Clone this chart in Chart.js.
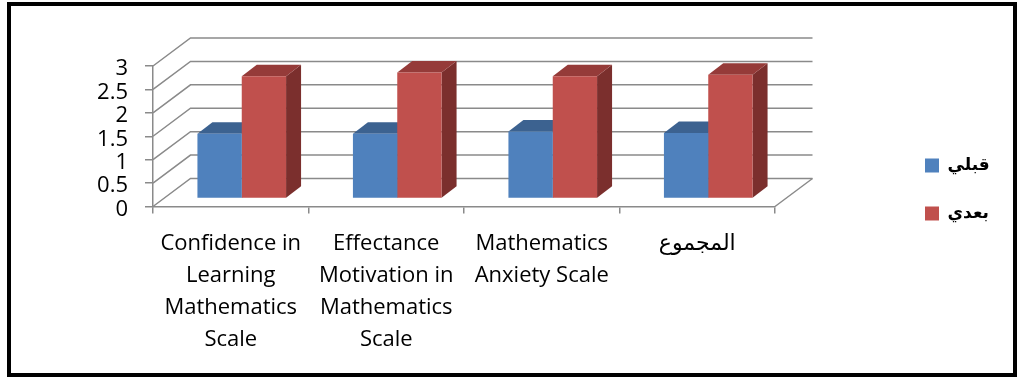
<!DOCTYPE html>
<html>
<head>
<meta charset="utf-8">
<script src="https://cdn.jsdelivr.net/npm/chart.js@4"></script>
<style>
  body { margin: 0; background: #fff; }
  canvas { display: block; }
</style>
</head>
<body>
<canvas id="chart" width="1019" height="379"></canvas>
<script>
const categories = [
    ["Confidence in", "Learning", "Mathematics", "Scale"],
    ["Effectance", "Motivation in", "Mathematics", "Scale"],
    ["Mathematics", "Anxiety Scale"],
    "المجموع"
];
const seriesNames = ["قبلي", "بعدي"];
const before = [1.38, 1.38, 1.43, 1.40];
const after = [2.61, 2.69, 2.61, 2.64];
const yTicks = [0, 0.5, 1, 1.5, 2, 2.5, 3];

// 3d look, in px
const DEPTH_X = 37.5, DEPTH_Y = -28;      // floor / side wall depth
const SHIFT_X = 11, SHIFT_Y = -8;         // bars stand a bit inside the floor
const BAR_DX = 15, BAR_DY = -11.5;        // depth of each bar
const GRID = "#8a8a8a";
const LABEL_FONT = "'Open Sans', 'DejaVu Sans', sans-serif";

const fronts = ["#4f81bd", "#c0504d"];
const tops = ["#3c6290", "#953b39"];
const sides = ["#2f4e74", "#7b2f2d"];

const ctx = document.getElementById("chart");

const fake3d = {
    id: "fake3d",
    afterLayout(chart) {
        // legend sits far to the right, centred vertically
        const lg = chart.legend;
        lg.left = 894;
        lg.right = chart.width;
        lg.width = lg.right - lg.left;
        lg.top = 0;
        lg.bottom = chart.height;
        lg.height = chart.height;
    },
    beforeDatasetsDraw(chart) {
        const c = chart.ctx, y = chart.scales.y, a = chart.chartArea;
        c.save();
        c.strokeStyle = GRID;
        c.lineWidth = 1.5;
        // side wall + back wall grid
        yTicks.forEach(v => {
            const py = y.getPixelForValue(v);
            c.beginPath();
            c.moveTo(a.left, py);
            c.lineTo(a.left + DEPTH_X, py + DEPTH_Y);
            c.lineTo(a.right + DEPTH_X, py + DEPTH_Y);
            c.stroke();
        });
        // floor right edge
        c.beginPath();
        c.moveTo(a.right, a.bottom);
        c.lineTo(a.right + DEPTH_X, a.bottom + DEPTH_Y);
        c.stroke();
        c.restore();

        // bars: move them into the box, then draw tops and sides behind the fronts
        c.save();
        c.translate(SHIFT_X, SHIFT_Y);
        chart.data.datasets.forEach((ds, i) => {
            chart.getDatasetMeta(i).data.forEach(bar => {
                const p = bar.getProps(["x", "y", "base", "width"], true);
                const x0 = p.x - p.width / 2, x1 = p.x + p.width / 2;
                c.fillStyle = sides[i];
                c.beginPath();
                c.moveTo(x1, p.y);
                c.lineTo(x1 + BAR_DX, p.y + BAR_DY);
                c.lineTo(x1 + BAR_DX, p.base + BAR_DY);
                c.lineTo(x1, p.base);
                c.closePath();
                c.fill();
                c.fillStyle = tops[i];
                c.beginPath();
                c.moveTo(x0, p.y);
                c.lineTo(x0 + BAR_DX, p.y + BAR_DY);
                c.lineTo(x1 + BAR_DX, p.y + BAR_DY);
                c.lineTo(x1, p.y);
                c.closePath();
                c.fill();
            });
        });
    },
    afterDatasetsDraw(chart) {
        chart.ctx.restore();
    },
    afterDraw(chart) {
        const c = chart.ctx;
        c.save();
        c.strokeStyle = "#000";
        c.lineWidth = 4;
        c.strokeRect(9, 4, 1006, 371);
        c.restore();
    }
};

const chart = new Chart(ctx, {
    type: "bar",
    data: {
        labels: categories,
        datasets: [
            { label: seriesNames[0], data: before, backgroundColor: fronts[0], borderWidth: 0 },
            { label: seriesNames[1], data: after, backgroundColor: fronts[1], borderWidth: 0 }
        ]
    },
    options: {
        responsive: false,
        animation: false,
        categoryPercentage: 0.57,
        barPercentage: 1,
        layout: { padding: { left: 20, right: 184, top: 66, bottom: 10 } },
        plugins: {
            legend: {
                position: "right",
                maxWidth: 60,
                labels: {
                    boxWidth: 14,
                    boxHeight: 14,
                    padding: 31,
                    color: "#000",
                    font: { family: "'DejaVu Sans', sans-serif", size: 17, weight: "bold" }
                }
            },
            tooltip: { enabled: false }
        },
        scales: {
            x: {
                grid: { drawOnChartArea: false, color: GRID, lineWidth: 1.5, tickLength: 7, offset: true },
                border: { color: GRID, width: 1.5 },
                ticks: {
                    color: "#000",
                    font: { family: LABEL_FONT, size: 22, lineHeight: "32px" },
                    padding: 14,
                    maxRotation: 0,
                    autoSkip: false
                },
                afterFit(s) { s.height = 162.5; }
            },
            y: {
                min: 0,
                max: 3,
                ticks: {
                    stepSize: 0.5,
                    autoSkip: false,
                    color: "#000",
                    font: { family: LABEL_FONT, size: 22, lineHeight: 1 },
                    padding: 17,
                    labelOffset: 3,
                    callback: v => String(v)
                },
                grid: { drawOnChartArea: false, color: GRID, lineWidth: 1.5, tickLength: 8 },
                border: { color: GRID, width: 1.5 },
                afterFit(s) { s.width = 133; }
            }
        }
    },
    plugins: [fake3d]
});
</script>
</body>
</html>
